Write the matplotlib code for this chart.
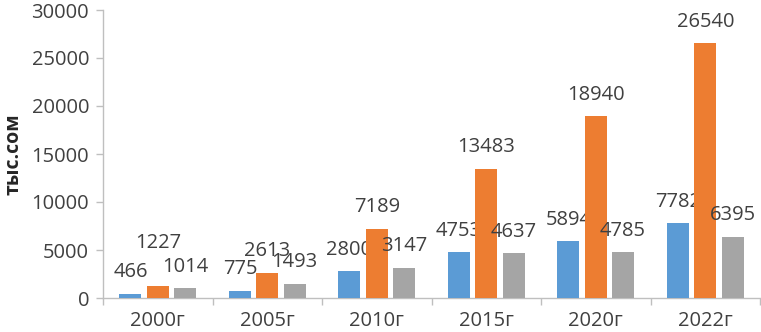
import matplotlib
matplotlib.use("Agg")
import matplotlib.pyplot as plt
import numpy as np

categories = ["2000г", "2005г", "2010г", "2015г", "2020г", "2022г"]
series_a = [466, 775, 2800, 4753, 5894, 7782]
series_b = [1227, 2613, 7189, 13483, 18940, 26540]
series_c = [1014, 1493, 3147, 4637, 4785, 6395]
y_ticks = [0, 5000, 10000, 15000, 20000, 25000, 30000]

colors = ["#5b9bd5", "#ed7d31", "#a5a5a5"]
text_color = "#404040"
plt.rcParams['font.family'] = ['Open Sans', 'DejaVu Sans']

fig = plt.figure(figsize=(7.61, 3.32), dpi=100)
ax = fig.add_axes([103/761, 1-298/332, 657/761, 288/332])

x = np.arange(len(categories))
w = 0.2
offs = [-0.25, 0.0, 0.25]
all_series = [series_a, series_b, series_c]
for si, (s, c, o) in enumerate(zip(all_series, colors, offs)):
    bars = ax.bar(x + o, s, width=w, color=c, zorder=3)
    for i, (b, v) in enumerate(zip(bars, s)):
        dy = 15.5
        if si == 1 and i == 0:
            dy = 31
        ax.annotate(str(v), (b.get_x() + b.get_width()/2, v),
                    xytext=(0, dy), textcoords="offset points",
                    ha="center", va="center", fontsize=14.5, color=text_color)

ax.set_xlim(-0.5, len(categories) - 0.5)
ax.set_ylim(0, 30000)
ax.set_yticks(y_ticks)
ax.set_yticklabels([str(t) for t in y_ticks], fontsize=14.5, color=text_color)
ax.set_xticks(x)
ax.set_xticklabels(categories, fontsize=14.5, color=text_color)
ax.set_xticks(np.arange(len(categories) + 1) - 0.5, minor=True)
ax.tick_params(axis="x", which="major", length=0, pad=9)
ax.tick_params(axis="x", which="minor", length=5, color="#bfbfbf", width=1)
ax.tick_params(axis="y", length=5, color="#bfbfbf", width=1, pad=5)

for side in ["top", "right"]:
    ax.spines[side].set_visible(False)
for side in ["left", "bottom"]:
    ax.spines[side].set_color("#bfbfbf")
    ax.spines[side].set_linewidth(1)

ax.set_ylabel("тыс.сом", fontsize=14, fontweight="bold", color="#262626", labelpad=6)

fig.savefig("out.png", dpi=100)
